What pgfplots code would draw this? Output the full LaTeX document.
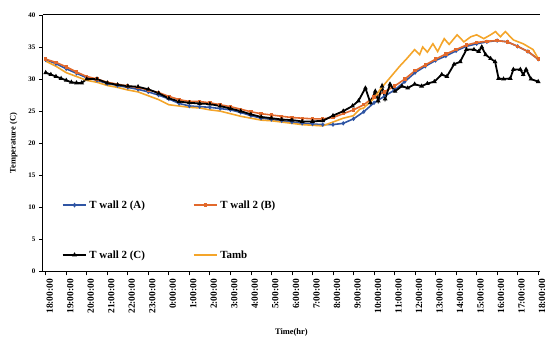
\documentclass[border=0pt]{standalone}
\usepackage{pgfplots}
\pgfplotsset{compat=1.18}
\usepackage{fontspec}
\setmainfont{Liberation Serif}
\definecolor{cA}{HTML}{2F55A4}
\definecolor{cB}{HTML}{E2692C}
\definecolor{cT}{HTML}{F4A52A}
\begin{document}
\begin{tikzpicture}
\begin{axis}[
  scale only axis, width=500pt, height=258pt,
  xmin=-0.144, xmax=24.09, ymin=0, ymax=40,
  axis x line*=bottom, axis y line*=left,
  axis line style={line width=0.9pt, -},
  tick align=outside, major tick length=4pt,
  tick style={line width=0.8pt, black},
  xtick={0,1,...,24},
  xticklabels={18:00:00,19:00:00,20:00:00,21:00:00,22:00:00,23:00:00,0:00:00,1:00:00,2:00:00,3:00:00,4:00:00,5:00:00,6:00:00,7:00:00,8:00:00,9:00:00,10:00:00,11:00:00,12:00:00,13:00:00,14:00:00,15:00:00,16:00:00,17:00:00,18:00:00},
  ytick={0,5,...,40},
  /pgf/number format/assume math mode=true,
  xticklabel style={rotate=90, anchor=east, font=\bfseries\fontsize{9.5}{10}\selectfont, yshift=-4pt},
  yticklabel style={font=\bfseries\fontsize{7}{8}\selectfont},
  xlabel={Time(hr)}, ylabel={Temperature (C)},
  xlabel style={font=\bfseries\fontsize{8.5}{9}\selectfont, yshift=-8pt},
  ylabel style={font=\bfseries\fontsize{8.5}{9}\selectfont, yshift=4pt},
  legend columns=2,
  legend style={at={(0.0377,0.285)}, anchor=north west, draw=none, fill=none,
    font=\bfseries\fontsize{11}{12}\selectfont, inner sep=0pt,
    row sep=37pt, /tikz/column 2/.style={column sep=46pt}},
  legend cell align=left,
  legend image code/.code={\draw[mark repeat=2,mark phase=2,line width=1.8pt,#1] plot coordinates {(0pt,0pt) (12pt,0pt) (24pt,0pt)};},
]
\coordinate (O) at (rel axis cs:0,0);
\coordinate (T1) at (rel axis cs:0,1);
\coordinate (T2) at (rel axis cs:1,1);
\addplot[color=cA, line width=1.6pt, mark=diamond*, mark size=1pt, mark options={solid}] coordinates {
(0,33.0) (0.5,32.4) (1,31.6) (1.5,30.9) (2,30.2) (2.5,29.8) (3,29.3) (3.5,29.0) (4,28.7) (4.5,28.4)
(5,28.0) (5.5,27.5) (6,26.9) (6.5,26.2) (7,25.8) (7.5,25.7) (8,25.6) (8.5,25.4) (9,25.2) (9.5,24.8)
(10,24.3) (10.5,23.9) (11,23.7) (11.5,23.5) (12,23.3) (12.5,23.1) (13,23.0) (13.5,22.9) (14,22.9) (14.5,23.1)
(15,23.8) (15.5,24.9) (16,26.3) (16.5,27.3) (17,28.3) (17.5,29.6) (18,31.0) (18.5,32.0) (19,32.9) (19.5,33.6)
(20,34.4) (20.5,35.1) (21,35.5) (21.5,35.8) (22,36.0) (22.5,35.8) (23,35.1) (23.5,34.3) (24,33.1)
};
\addlegendentry{T wall 2 (A)}
\addplot[color=cB, line width=1.6pt, mark=square*, mark size=0.9pt, mark options={solid}] coordinates {
(0,33.1) (0.5,32.6) (1,31.9) (1.5,31.1) (2,30.4) (2.5,30.0) (3,29.5) (3.5,29.2) (4,28.9) (4.5,28.7)
(5,28.3) (5.5,27.9) (6,27.3) (6.5,26.8) (7,26.5) (7.5,26.5) (8,26.3) (8.5,26.0) (9,25.7) (9.5,25.3)
(10,24.9) (10.5,24.6) (11,24.4) (11.5,24.2) (12,24.0) (12.5,23.9) (13,23.8) (13.5,23.8) (14,24.0) (14.5,24.6)
(15,25.2) (15.5,26.0) (16,27.2) (16.5,28.0) (17,28.9) (17.5,30.0) (18,31.3) (18.5,32.2) (19,33.1) (19.5,33.9)
(20,34.6) (20.5,35.3) (21,35.7) (21.5,35.9) (22,36.0) (22.5,35.8) (23,35.1) (23.5,34.3) (24,33.1)
};
\addlegendentry{T wall 2 (B)}
\addplot[color=black, line width=1.8pt, mark=triangle*, mark size=1pt, mark options={solid}] coordinates {
(0,31.0) (0.25,30.7) (0.5,30.4) (0.75,30.1) (1,29.8) (1.25,29.5) (1.5,29.4) (1.75,29.4) (2,30.0) (2.5,30.0)
(3,29.4) (3.5,29.1) (4,28.9) (4.5,28.8) (5,28.4) (5.5,27.8) (6,27.0) (6.5,26.5) (7,26.3) (7.5,26.2)
(8,26.1) (8.5,25.8) (9,25.4) (9.5,25.0) (10,24.5) (10.5,24.1) (11,23.9) (11.5,23.7) (12,23.6) (12.5,23.4)
(13,23.4) (13.5,23.5) (14,24.3) (14.5,25.0) (14.95,25.8) (15.24,26.6) (15.58,28.6) (15.82,26.3) (16.06,28.1) (16.2,26.6)
(16.39,28.9) (16.54,26.9) (16.78,29.2) (17.02,28.1) (17.36,28.9) (17.64,28.6) (17.98,29.2) (18.32,28.9) (18.6,29.3) (18.94,29.6)
(19.3,30.7) (19.55,30.4) (19.9,32.3) (20.2,32.7) (20.5,34.6) (20.87,34.6) (21.1,34.3) (21.25,35.0) (21.44,33.8) (21.68,33.2)
(21.9,32.7) (22.07,30.1) (22.31,30.0) (22.64,30.1) (22.79,31.5) (23.13,31.5) (23.27,30.7) (23.41,31.5) (23.65,30.0) (24.0,29.6)
};
\addlegendentry{T wall 2 (C)}
\addplot[color=cT, line width=1.6pt, mark=none] coordinates {
(0,32.8) (0.5,32.0) (1,31.0) (1.5,30.4) (2,29.8) (2.5,29.5) (3,29.0) (3.5,28.7) (4,28.3) (4.5,28.0)
(5,27.4) (5.5,26.8) (6,26.0) (6.5,25.8) (7,25.6) (7.5,25.5) (8,25.2) (8.5,25.0) (9,24.6) (9.5,24.2)
(10,23.9) (10.5,23.6) (11,23.5) (11.5,23.3) (12,23.1) (12.5,22.9) (13,22.8) (13.5,22.7) (14,23.3) (14.5,23.9)
(15,24.3) (15.3,25.3) (15.5,25.5) (16,27.0) (16.3,28.4) (16.75,30.1) (17.25,32.0) (17.6,33.2) (17.98,34.6) (18.22,33.8)
(18.37,35.0) (18.6,34.2) (18.87,35.5) (19.1,34.3) (19.42,36.3) (19.66,35.4) (20.05,36.9) (20.38,35.8) (20.72,36.6) (21.0,36.9)
(21.35,36.3) (21.68,36.9) (21.92,37.4) (22.16,36.6) (22.4,37.4) (22.79,36.1) (23.27,35.5) (23.75,34.6) (24.0,33.2)
};
\addlegendentry{Tamb}
\end{axis}
\draw[line width=0.9pt] (T1) -- (T2);
\pgfresetboundingbox
\useasboundingbox (O) ++(-43pt,-67pt) rectangle ++(550pt,340pt);
\end{tikzpicture}
\end{document}
